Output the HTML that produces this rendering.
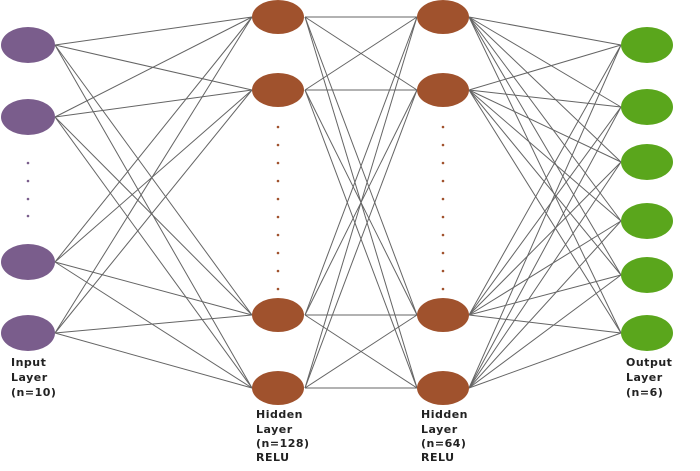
<!DOCTYPE html>
<html><head><meta charset="utf-8"><style>
html,body{margin:0;padding:0;background:#fff;}
svg{display:block;}
text{font-family:"DejaVu Sans","Liberation Sans",sans-serif;font-weight:bold;font-size:11px;letter-spacing:0.5px;fill:#222;}
</style></head><body>
<svg width="700" height="471" viewBox="0 0 700 471" xmlns="http://www.w3.org/2000/svg">
<g stroke="#4a4a4a" stroke-width="1" opacity="0.85">
<line x1="55" y1="45" x2="252" y2="17"/><line x1="55" y1="45" x2="252" y2="90"/><line x1="55" y1="45" x2="252" y2="315"/><line x1="55" y1="45" x2="252" y2="388"/>
<line x1="55" y1="117" x2="252" y2="17"/><line x1="55" y1="117" x2="252" y2="90"/><line x1="55" y1="117" x2="252" y2="315"/><line x1="55" y1="117" x2="252" y2="388"/>
<line x1="55" y1="262" x2="252" y2="17"/><line x1="55" y1="262" x2="252" y2="90"/><line x1="55" y1="262" x2="252" y2="315"/><line x1="55" y1="262" x2="252" y2="388"/>
<line x1="55" y1="333" x2="252" y2="17"/><line x1="55" y1="333" x2="252" y2="90"/><line x1="55" y1="333" x2="252" y2="315"/><line x1="55" y1="333" x2="252" y2="388"/>
<line x1="305" y1="17" x2="417" y2="17"/><line x1="305" y1="17" x2="417" y2="90"/><line x1="305" y1="17" x2="417" y2="315"/><line x1="305" y1="17" x2="417" y2="388"/>
<line x1="305" y1="90" x2="417" y2="17"/><line x1="305" y1="90" x2="417" y2="90"/><line x1="305" y1="90" x2="417" y2="315"/><line x1="305" y1="90" x2="417" y2="388"/>
<line x1="305" y1="315" x2="417" y2="17"/><line x1="305" y1="315" x2="417" y2="90"/><line x1="305" y1="315" x2="417" y2="315"/><line x1="305" y1="315" x2="417" y2="388"/>
<line x1="305" y1="388" x2="417" y2="17"/><line x1="305" y1="388" x2="417" y2="90"/><line x1="305" y1="388" x2="417" y2="315"/><line x1="305" y1="388" x2="417" y2="388"/>
<line x1="469" y1="17" x2="621" y2="45"/><line x1="469" y1="17" x2="621" y2="107"/><line x1="469" y1="17" x2="621" y2="162"/><line x1="469" y1="17" x2="621" y2="221"/><line x1="469" y1="17" x2="621" y2="275"/><line x1="469" y1="17" x2="621" y2="333"/>
<line x1="469" y1="90" x2="621" y2="45"/><line x1="469" y1="90" x2="621" y2="107"/><line x1="469" y1="90" x2="621" y2="162"/><line x1="469" y1="90" x2="621" y2="221"/><line x1="469" y1="90" x2="621" y2="275"/><line x1="469" y1="90" x2="621" y2="333"/>
<line x1="469" y1="315" x2="621" y2="45"/><line x1="469" y1="315" x2="621" y2="107"/><line x1="469" y1="315" x2="621" y2="162"/><line x1="469" y1="315" x2="621" y2="221"/><line x1="469" y1="315" x2="621" y2="275"/><line x1="469" y1="315" x2="621" y2="333"/>
<line x1="469" y1="388" x2="621" y2="45"/><line x1="469" y1="388" x2="621" y2="107"/><line x1="469" y1="388" x2="621" y2="162"/><line x1="469" y1="388" x2="621" y2="221"/><line x1="469" y1="388" x2="621" y2="275"/><line x1="469" y1="388" x2="621" y2="333"/>
</g>
<g fill="#7a5d8c">
<ellipse cx="28" cy="45" rx="27" ry="18"/><ellipse cx="28" cy="117" rx="27" ry="18"/><ellipse cx="28" cy="262" rx="27" ry="18"/><ellipse cx="28" cy="333" rx="27" ry="18"/>
<circle cx="28" cy="163" r="1.3"/><circle cx="28" cy="181" r="1.3"/><circle cx="28" cy="199" r="1.3"/><circle cx="28" cy="216" r="1.3"/>
</g>
<g fill="#a0522d">
<ellipse cx="278" cy="17" rx="26" ry="17"/><ellipse cx="278" cy="90" rx="26" ry="17"/><ellipse cx="278" cy="315" rx="26" ry="17"/><ellipse cx="278" cy="388" rx="26" ry="17"/>
<ellipse cx="443" cy="17" rx="26" ry="17"/><ellipse cx="443" cy="90" rx="26" ry="17"/><ellipse cx="443" cy="315" rx="26" ry="17"/><ellipse cx="443" cy="388" rx="26" ry="17"/>
<circle cx="278" cy="127" r="1.3"/><circle cx="278" cy="145" r="1.3"/><circle cx="278" cy="163" r="1.3"/><circle cx="278" cy="181" r="1.3"/><circle cx="278" cy="199" r="1.3"/><circle cx="278" cy="217" r="1.3"/><circle cx="278" cy="235" r="1.3"/><circle cx="278" cy="253" r="1.3"/><circle cx="278" cy="271" r="1.3"/><circle cx="278" cy="289" r="1.3"/>
<circle cx="443" cy="127" r="1.3"/><circle cx="443" cy="145" r="1.3"/><circle cx="443" cy="163" r="1.3"/><circle cx="443" cy="181" r="1.3"/><circle cx="443" cy="199" r="1.3"/><circle cx="443" cy="217" r="1.3"/><circle cx="443" cy="235" r="1.3"/><circle cx="443" cy="253" r="1.3"/><circle cx="443" cy="271" r="1.3"/><circle cx="443" cy="289" r="1.3"/>
</g>
<g fill="#5aa61c">
<ellipse cx="647" cy="45" rx="26" ry="18"/><ellipse cx="647" cy="107" rx="26" ry="18"/><ellipse cx="647" cy="162" rx="26" ry="18"/><ellipse cx="647" cy="221" rx="26" ry="18"/><ellipse cx="647" cy="275" rx="26" ry="18"/><ellipse cx="647" cy="333" rx="26" ry="18"/>
</g>
<text x="11" y="366">Input</text><text x="11" y="381">Layer</text><text x="11" y="396">(n=10)</text>
<text x="256" y="418">Hidden</text><text x="256" y="433">Layer</text><text x="256" y="447">(n=128)</text><text x="256" y="461">RELU</text>
<text x="421" y="418">Hidden</text><text x="421" y="433">Layer</text><text x="421" y="447">(n=64)</text><text x="421" y="461">RELU</text>
<text x="626" y="366">Output</text><text x="626" y="381">Layer</text><text x="626" y="396">(n=6)</text>
</svg>
</body></html>
